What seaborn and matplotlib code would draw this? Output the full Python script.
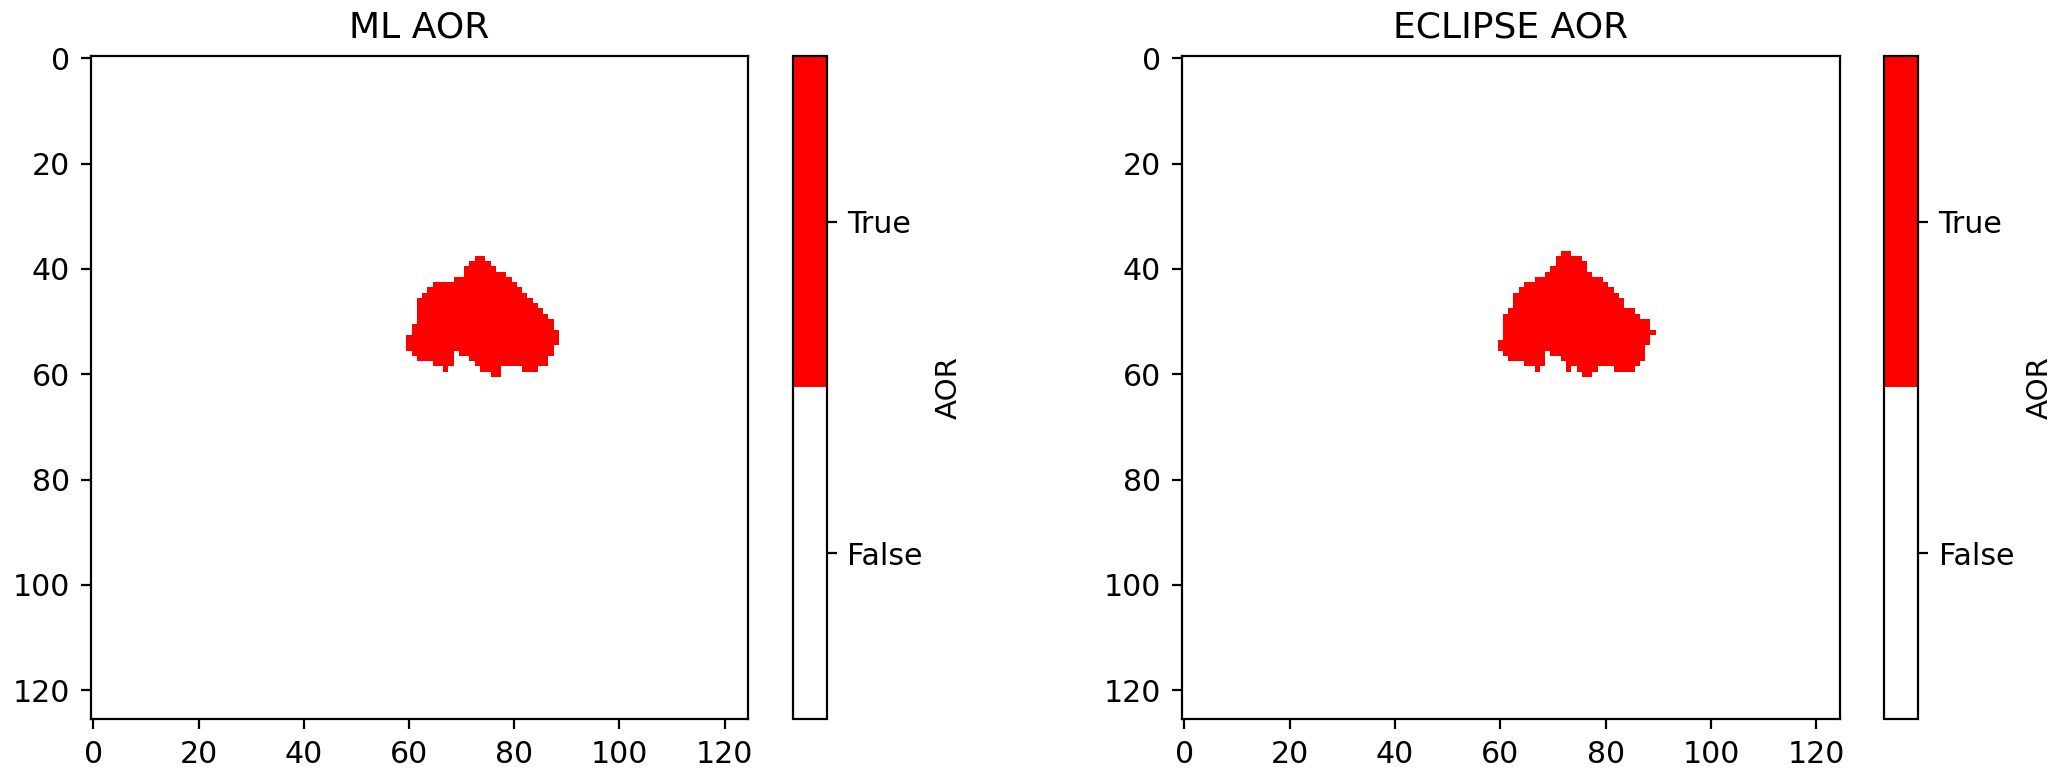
import numpy as np
import matplotlib
matplotlib.use("Agg")
import matplotlib.pyplot as plt
import seaborn as sns
from matplotlib.colors import ListedColormap

N_ROWS, N_COLS = 126, 125

# ML AOR region: for each column, first and last True row
ml_cols = list(range(60, 89))
ml_top = [53, 51, 46, 45, 44, 43, 43, 43, 43, 42, 42, 40, 39, 38, 38,
          39, 40, 41, 41, 42, 43, 44, 45, 46, 47, 48, 49, 50, 52]
ml_bottom = [55, 56, 57, 57, 57, 58, 58, 59, 58, 55, 56, 56, 57, 58, 59,
             59, 60, 60, 58, 58, 58, 58, 59, 59, 59, 58, 58, 56, 54]

# ECLIPSE AOR region
ecl_cols = list(range(60, 90))
ecl_top = [54, 49, 48, 45, 44, 43, 43, 42, 42, 41, 40, 38, 37, 37, 38,
           38, 39, 41, 42, 42, 43, 44, 45, 46, 48, 48, 49, 50, 50, 52]
ecl_bottom = [55, 56, 57, 57, 57, 58, 58, 59, 58, 55, 56, 56, 57, 59, 58,
              59, 60, 60, 59, 58, 58, 58, 59, 59, 59, 59, 58, 57, 54, 52]

titles = ["ML AOR", "ECLIPSE AOR"]
tick_vals = list(range(0, 121, 20))
cbar_labels = ["False", "True"]


def make_mask(cols, tops, bottoms):
    m = np.zeros((N_ROWS, N_COLS), dtype=int)
    for c, t, b in zip(cols, tops, bottoms):
        m[t:b + 1, c] = 1
    return m


masks = [make_mask(ml_cols, ml_top, ml_bottom),
         make_mask(ecl_cols, ecl_top, ecl_bottom)]

W, H = 2062, 769
fig = plt.figure(figsize=(W / 200, H / 200), dpi=200)
cmap = ListedColormap(["white", "red"])

ax_rects = [[90.7 / W, 50 / H, 657.6 / W, 663.2 / H],
            [1181.7 / W, 50 / H, 658.3 / W, 663.2 / H]]
cax_rects = [[793.3 / W, 50 / H, 33.4 / W, 663.2 / H],
             [1884.0 / W, 50 / H, 34.0 / W, 663.2 / H]]

for mask, title, ar, cr in zip(masks, titles, ax_rects, cax_rects):
    ax = fig.add_axes(ar)
    cax = fig.add_axes(cr)
    sns.heatmap(mask, ax=ax, cbar_ax=cax, cmap=cmap, vmin=0, vmax=1,
                xticklabels=False, yticklabels=False)
    ax.set_xticks(np.array(tick_vals) + 0.5)
    ax.set_xticklabels([str(v) for v in tick_vals], rotation=0)
    ax.set_yticks(np.array(tick_vals) + 0.5)
    ax.set_yticklabels([str(v) for v in tick_vals], rotation=0)
    ax.tick_params(length=3.6, width=0.8, labelsize=10.8, colors="black",
                   pad=3.8)
    for s in ax.spines.values():
        s.set_visible(True)
        s.set_linewidth(0.8)
        s.set_color("black")
    ax.set_title(title, fontsize=13, pad=6.5)
    cb = ax.collections[0].colorbar
    cb.set_ticks([0.25, 0.75])
    cb.set_ticklabels(cbar_labels)
    cb.set_label("AOR", fontsize=10.6, labelpad=4.3)
    cb.outline.set_visible(True)
    cb.outline.set_linewidth(0.8)
    cb.outline.set_edgecolor("black")
    cax.tick_params(length=3.6, width=0.8, labelsize=10.8, pad=3.8)

fig.savefig("out.png", dpi=200)
